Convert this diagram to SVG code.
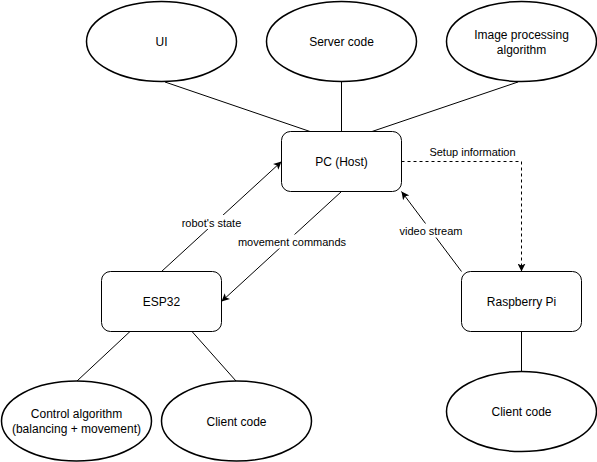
<svg xmlns="http://www.w3.org/2000/svg" width="597" height="462" viewBox="0 0 597 462">
<style>
.node{fill:#fff;stroke:#000;stroke-width:1}
.ell{fill:#fff;stroke:#000;stroke-width:1.5}
.t{font-family:"Liberation Sans",Arial,sans-serif;font-size:12px;fill:#000;text-anchor:middle}
.lt{font-family:"Liberation Sans",Arial,sans-serif;font-size:11px;fill:#000;text-anchor:middle}
.c{fill:none;stroke:#000;stroke-width:1}
.bg{fill:#fff;stroke:none}
</style>
<defs>
<marker id="arr" viewBox="0 0 8 8" refX="8" refY="4" markerWidth="8" markerHeight="8" markerUnits="userSpaceOnUse" orient="auto">
<path d="M8,4 L0,0 L2,4 L0,8 Z" fill="#000"/>
</marker>
</defs>
<rect width="597" height="462" fill="#fff"/>
<g id="connectors">
<line class="c" x1="165" y1="82" x2="310" y2="131.5"/>
<line class="c" x1="341.5" y1="81.5" x2="341.5" y2="131.5"/>
<line class="c" x1="518" y1="82" x2="372" y2="131.5"/>
<line class="c" x1="161.5" y1="271.5" x2="281.5" y2="161.5" marker-end="url(#arr)"/>
<line class="c" x1="341.5" y1="191.5" x2="221.5" y2="301.5" marker-end="url(#arr)"/>
<line class="c" x1="461.5" y1="271.5" x2="401.5" y2="191.5" marker-end="url(#arr)"/>
<path class="c" d="M401.5,161.5 H521.5 V271.5" stroke-dasharray="3,3" marker-end="url(#arr)"/>
<line class="c" x1="130" y1="331.5" x2="77" y2="381"/>
<line class="c" x1="192" y1="331.5" x2="236" y2="381"/>
<line class="c" x1="521.5" y1="331.5" x2="521.5" y2="371.5"/>
<rect class="bg" x="180" y="215" width="64" height="14"/>
<text class="lt" x="211.5" y="226.5">robot's state</text>
<rect class="bg" x="238" y="234.5" width="110" height="14"/>
<text class="lt" x="292" y="245.5">movement commands</text>
<rect class="bg" x="398" y="223.5" width="66" height="14"/>
<text class="lt" x="431" y="234.5">video stream</text>
<rect class="bg" x="428" y="145" width="90" height="13"/>
<text class="lt" x="472.5" y="156">Setup information</text>
</g>
<g id="ui"><ellipse class="ell" cx="161.5" cy="41.5" rx="75" ry="40"/><text class="t" x="161.5" y="46">UI</text></g>
<g id="server"><ellipse class="ell" cx="341.5" cy="41.5" rx="75" ry="40"/><text class="t" x="341.5" y="46">Server code</text></g>
<g id="imgproc"><ellipse class="ell" cx="521.5" cy="41.5" rx="75" ry="40"/><text class="t" x="521.5" y="39">Image processing</text><text class="t" x="521.5" y="54">algorithm</text></g>
<g id="pc"><rect class="node" x="281.5" y="131.5" width="120" height="60" rx="9"/><text class="t" x="341.5" y="165.5">PC (Host)</text></g>
<g id="esp32"><rect class="node" x="101.5" y="271.5" width="120" height="60" rx="9"/><text class="t" x="161.5" y="305.5">ESP32</text></g>
<g id="rpi"><rect class="node" x="461.5" y="271.5" width="120" height="60" rx="9"/><text class="t" x="521.5" y="305.5">Raspberry Pi</text></g>
<g id="control"><ellipse class="ell" cx="76.5" cy="421" rx="75" ry="40"/><text class="t" x="76.5" y="417.5">Control algorithm</text><text class="t" x="76.5" y="432.5">(balancing + movement)</text></g>
<g id="client1"><ellipse class="ell" cx="236.5" cy="421" rx="75" ry="40"/><text class="t" x="236.5" y="425.5">Client code</text></g>
<g id="client2"><ellipse class="ell" cx="521.5" cy="411.5" rx="75" ry="40"/><text class="t" x="521.5" y="415.5">Client code</text></g>
</svg>
